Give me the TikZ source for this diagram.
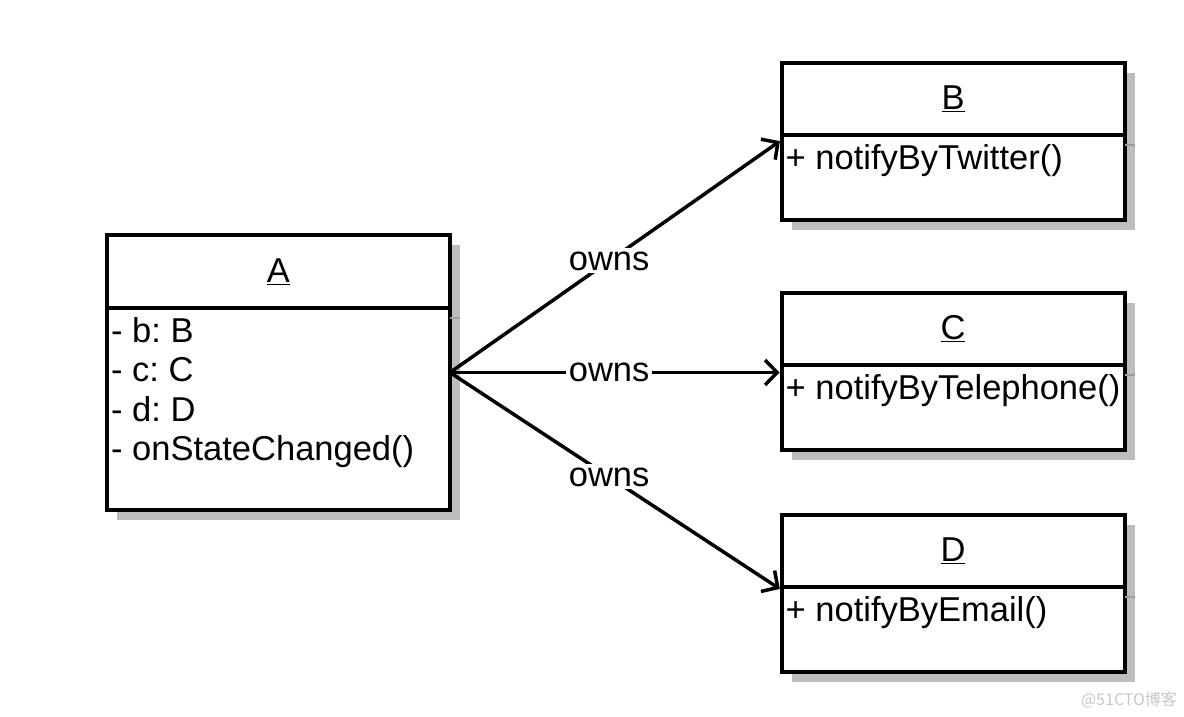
\documentclass[tikz,border=0pt]{standalone}
\usepackage{fontspec}
\setmainfont{Liberation Sans}
\newfontfamily\cjkfont{Noto Sans CJK SC}
\usetikzlibrary{positioning,calc,shadows,arrows.meta}
\definecolor{shade}{gray}{0.74}
\definecolor{shadeline}{gray}{0.62}
\definecolor{wmgray}{gray}{0.78}
\frenchspacing

\begin{document}
\begin{tikzpicture}[x=1pt,y=-1pt,
  font=\fontsize{34.5}{39.5}\selectfont,
  classhead/.style={draw,line width=4pt,fill=white,minimum width=343pt,
    minimum height=73pt,outer sep=0pt,inner sep=0pt,
    drop shadow={shadow xshift=10pt,shadow yshift=-10pt,fill=shade,opacity=1}},
  classbody/.style={classhead,minimum height=#1},
  members/.style={anchor=north west,align=left,inner xsep=4pt,inner ysep=9pt},
  owns/.style={line width=3.5pt,shorten >=2pt,-{Straight Barb[length=12pt,width=25pt]}},
  ownslabel/.style={fill=white,inner sep=3pt,pos=0.48}]
\fill[white] (0,0) rectangle (1184,716);
\useasboundingbox (0,0) rectangle (1184,716);

% class A
\node[classhead] (A) at (278.5,271.5) {\underline{A}};
\node[classbody=202pt,below=0pt of A] (Abody) {};
\node[members] (Amembers) at (Abody.north west) {- b: B\\- c: C\\- d: D\\- onStateChanged()};
\draw[shadeline,line width=2pt] ([yshift=-10pt]A.south east) -- ++(10,0);

% class B
\node[classhead,minimum height=72pt] (B) at (953,99) {\underline{B}};
\node[classbody=85pt,below=0pt of B] (Bbody) {};
\node[members] (Bmembers) at (Bbody.north west) {+ notifyByTwitter()};
\draw[shadeline,line width=2pt] ([yshift=-10pt]B.south east) -- ++(10,0);

% class C
\node[classhead,minimum height=72pt] (C) at (953,329) {\underline{C}};
\node[classbody=85pt,below=0pt of C] (Cbody) {};
\node[members] (Cmembers) at (Cbody.north west) {+ notifyByTelephone()};
\draw[shadeline,line width=2pt] ([yshift=-10pt]C.south east) -- ++(10,0);

% class D
\node[classhead,minimum height=72pt] (D) at (953,551) {\underline{D}};
\node[classbody=85pt,below=0pt of D] (Dbody) {};
\node[members] (Dmembers) at (Dbody.north west) {+ notifyByEmail()};
\draw[shadeline,line width=2pt] ([yshift=-10pt]D.south east) -- ++(10,0);

% owns arrows
\coordinate (Aport) at ($(A.north east)!0.5!(Abody.south east)$);
\draw[owns] (Aport) -- node[ownslabel] {owns} ([yshift=-5pt]Bbody.north west);
\draw[owns] (Aport) -- node[ownslabel] {owns} (Aport -| Cbody.west);
\draw[owns] (Aport) -- node[ownslabel] {owns} ([yshift=-3pt]Dbody.north west);

% watermark
\node[text=wmgray,font=\cjkfont\fontsize{16}{16}\selectfont] (mark51) at (1129,700) {@51CTO博客};
\end{tikzpicture}
\end{document}
